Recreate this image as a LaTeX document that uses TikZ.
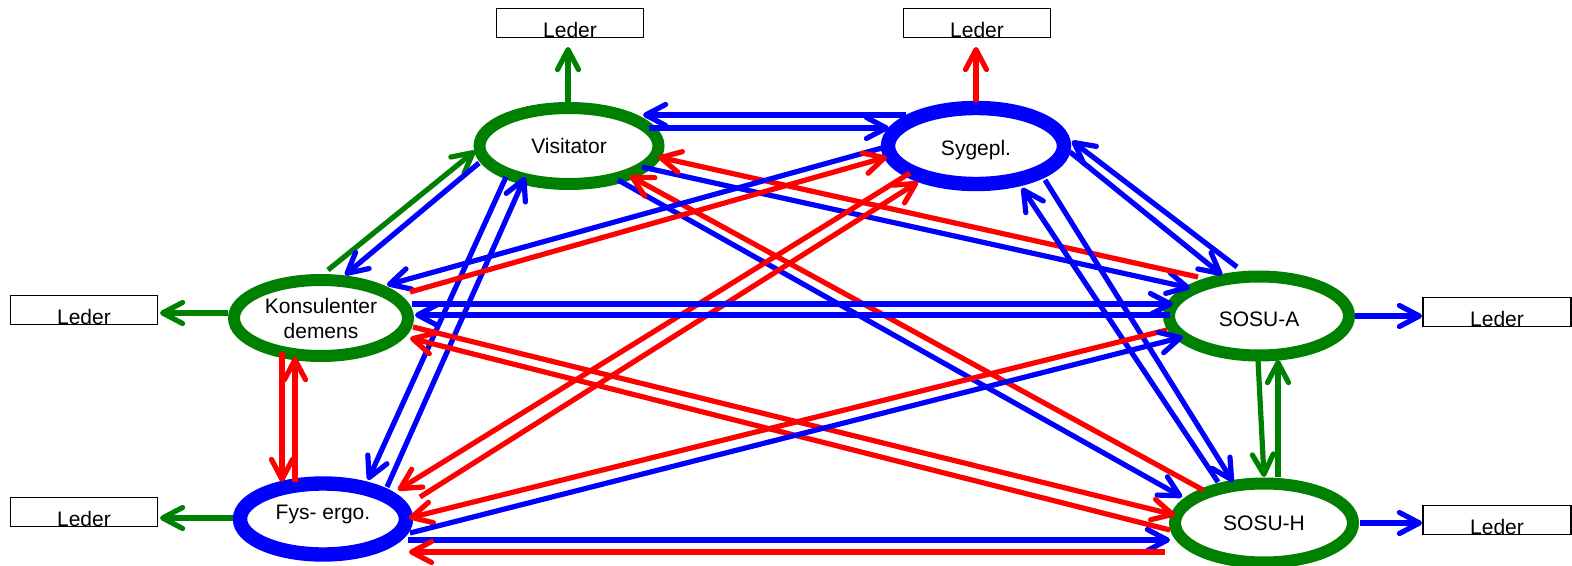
\documentclass[tikz,border=0pt]{standalone}
\usepackage{fontspec}
\setmainfont{Liberation Sans}
\usetikzlibrary{arrows.meta,calc,shapes.geometric}
\definecolor{dgreen}{RGB}{0,128,0}
\definecolor{pblue}{RGB}{0,0,255}
\definecolor{pred}{RGB}{255,0,0}
% one connector: colour, start node, offset, end node, offset
\newcommand\link[5]{\draw[arr,#1] ($(#2)+(#3)$) -- ($(#4)+(#5)$);}
\begin{document}
\begin{tikzpicture}[x=0.5pt,y=-0.5pt,
  txt/.style={font=\fontsize{10.5pt}{12.5pt}\selectfont},
  unit/.style={ellipse, draw, fill=white, line width=6pt, inner sep=0pt, txt},
  gunit/.style={unit, draw=dgreen},
  bunit/.style={unit, draw=pblue, line width=7.2pt},
  leder/.style={draw=black, line width=0.8pt, inner sep=0pt, minimum width=73.5pt,
    text height=14.5pt, text depth=-1pt, txt},
  arr/.style={line width=2.6pt, -{Straight Barb[length=10pt,width=10.5pt,round]}},
]
\useasboundingbox (0,0) rectangle (1572,566);

% units
\node[gunit, minimum width=89.5pt, minimum height=38pt, text height=7.5pt, text depth=0pt] (V) at (569,146) {Visitator};
\node[bunit, minimum width=88pt, minimum height=38pt, text height=10pt, text depth=0pt] (S) at (976,146) {Sygepl.};
\node[gunit, minimum width=87pt, minimum height=38pt, align=center] (K) at (321,318) {Konsulenter\\demens};
\node[gunit, minimum width=90pt, minimum height=39.5pt, text height=11pt, text depth=0pt] (A) at (1259,316) {SOSU-A};
\node[bunit, minimum width=83pt, minimum height=35.5pt, text height=8pt, text depth=8pt] (F) at (323,519) {Fys- ergo.};
\node[gunit, minimum width=89pt, minimum height=39.5pt, text height=7.5pt, text depth=0pt] (H) at (1264,523) {SOSU-H};

% leader boxes
\node[leder] (LV) at (570,23) {Leder};
\node[leder] (LS) at (977,23) {Leder};
\node[leder] (LK) at (84,310) {Leder};
\node[leder] (LF) at (84,512) {Leder};
\node[leder, minimum width=74pt] (LA) at (1497,312) {Leder};
\node[leder, minimum width=74pt] (LH) at (1497,520) {Leder};

% Visitator / Sygepl
\link{pblue}{V}{80,-18}{S}{-87,-18}
\link{pblue}{S}{-70,-31}{V}{74,-31}
% Visitator / Konsulenter
\link{dgreen}{K}{7,-48}{V}{-94,5}
\link{pblue}{V}{-90,17}{K}{24,-43}
% Visitator / Fys-ergo
\link{pblue}{V}{-63,31}{F}{45,-39}
\link{pblue}{F}{64,-32}{V}{-44,31}
% Visitator / SOSU-A
\link{pblue}{V}{73,21}{A}{-69,-28}
\link{pred}{A}{-61,-39}{V}{89,11}
% Visitator / SOSU-H
\link{pblue}{V}{49,34}{H}{-82,-26}
\link{pred}{H}{-61,-33}{V}{61,30}
% Sygepl / Konsulenter
\link{pblue}{S}{-94,2}{K}{66,-33}
\link{pred}{K}{89,-26}{S}{-89,11}
% Sygepl / Fys-ergo
\link{pred}{S}{-66,27}{F}{75,-29}
\link{pred}{F}{97,-22}{S}{-58,36}
% Sygepl / SOSU-A
\link{pblue}{A}{-22,-49}{S}{96,-5}
\link{pblue}{S}{94,6}{A}{-37,-41}
% Sygepl / SOSU-H
\link{pblue}{H}{-46,-41}{S}{46,42}
\link{pblue}{S}{69,34}{H}{-31,-41}
% Konsulenter / SOSU-A
\link{pblue}{K}{91,-14}{A}{-86,-12}
\link{pblue}{A}{-89,-1}{K}{94,-3}
% Konsulenter / SOSU-H
\link{pred}{K}{92,9}{H}{-89,-8}
\link{pred}{H}{-94,7}{K}{89,20}
% Konsulenter / Fys-ergo
\link{pred}{K}{-39,34}{F}{-41,-37}
\link{pred}{F}{-28,-37}{K}{-26,39}
% Fys-ergo / SOSU-A
\link{pred}{A}{-92,14}{F}{86,-1}
\link{pblue}{F}{87,14}{A}{-76,21}
% Fys-ergo / SOSU-H
\link{pblue}{F}{85,21}{H}{-94,17}
\link{pred}{H}{-99,29}{F}{86,33}
% SOSU-A / SOSU-H
\link{dgreen}{A}{-1,44}{H}{0,-46}
\link{dgreen}{H}{14,-46}{A}{19,44}
% reporting lines to the leaders
\link{dgreen}{V}{-1,-44}{LV}{-2,24}
\link{pred}{S}{0,-44}{LS}{-1,24}
\link{dgreen}{K}{-93,-5}{LK}{76,3}
\link{dgreen}{F}{-90,-1}{LF}{76,6}
\link{pblue}{A}{96,0}{LA}{-75,4}
\link{pblue}{H}{96,0}{LH}{-75,3}
\end{tikzpicture}
\end{document}
